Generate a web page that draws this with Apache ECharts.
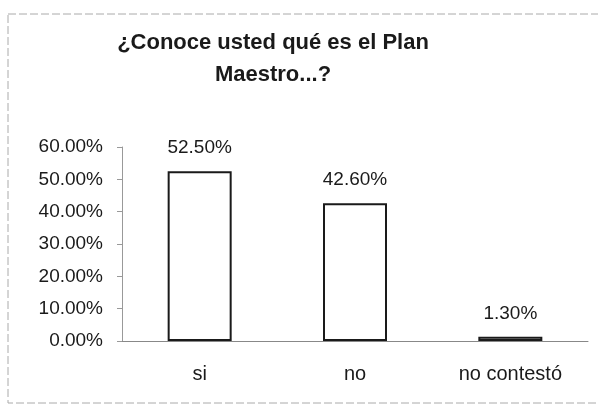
<!DOCTYPE html>
<html>
<head>
<meta charset="utf-8">
<script src="https://cdn.jsdelivr.net/npm/echarts@6/dist/echarts.min.js"></script>
<style>
  html, body { margin: 0; padding: 0; background: #fff; }
  #chart { width: 598px; height: 413px; }
</style>
</head>
<body>
<div id="chart"></div>
<script>
// datos del gráfico
var categorias = ['si', 'no', 'no contestó'];
var valores = [52.5, 42.6, 1.3];
var titulo = '¿Conoce usted qué es el Plan\nMaestro...?';

var myChart = echarts.init(document.getElementById('chart'));

var option = {
  backgroundColor: '#fff',
  textStyle: { fontFamily: 'Liberation Sans, Arial, sans-serif' },
  title: {
    text: titulo,
    left: 268,
    textAlign: 'center',
    top: 22,
    textStyle: {
      fontSize: 22,
      fontWeight: 'bold',
      color: '#1a1a1a',
      lineHeight: 32,
      fontFamily: 'Liberation Sans, Arial, sans-serif'
    }
  },
  graphic: [{
    type: 'rect',
    shape: { x: 8, y: 14, width: 600, height: 389 },
    style: { fill: 'none', stroke: '#aaa', lineWidth: 1, lineDash: [8, 3] },
    silent: true
  }],
  grid: {
    left: 122,
    right: 10,
    top: 147,
    bottom: 72
  },
  xAxis: {
    type: 'category',
    data: categorias,
    axisLine: { lineStyle: { color: '#888', width: 1 } },
    axisTick: { show: false },
    axisLabel: {
      color: '#1a1a1a',
      fontSize: 20,
      margin: 23
    }
  },
  yAxis: {
    type: 'value',
    min: 0,
    max: 60,
    interval: 10,
    axisLine: { show: true, lineStyle: { color: '#999', width: 1 } },
    axisTick: { show: true, length: 5, lineStyle: { color: '#999' } },
    splitLine: { show: false },
    axisLabel: {
      color: '#1a1a1a',
      fontSize: 19,
      margin: 19,
      formatter: function (v) { return v.toFixed(2) + '%'; }
    }
  },
  series: [{
    type: 'bar',
    data: valores,
    barWidth: 64,
    itemStyle: {
      color: '#fff',
      borderColor: '#1a1a1a',
      borderWidth: 2
    },
    label: {
      show: true,
      position: 'top',
      distance: 14,
      color: '#1a1a1a',
      fontSize: 19,
      formatter: function (p) { return p.value.toFixed(2) + '%'; }
    }
  }]
};

myChart.setOption(option);
</script>
</body>
</html>
